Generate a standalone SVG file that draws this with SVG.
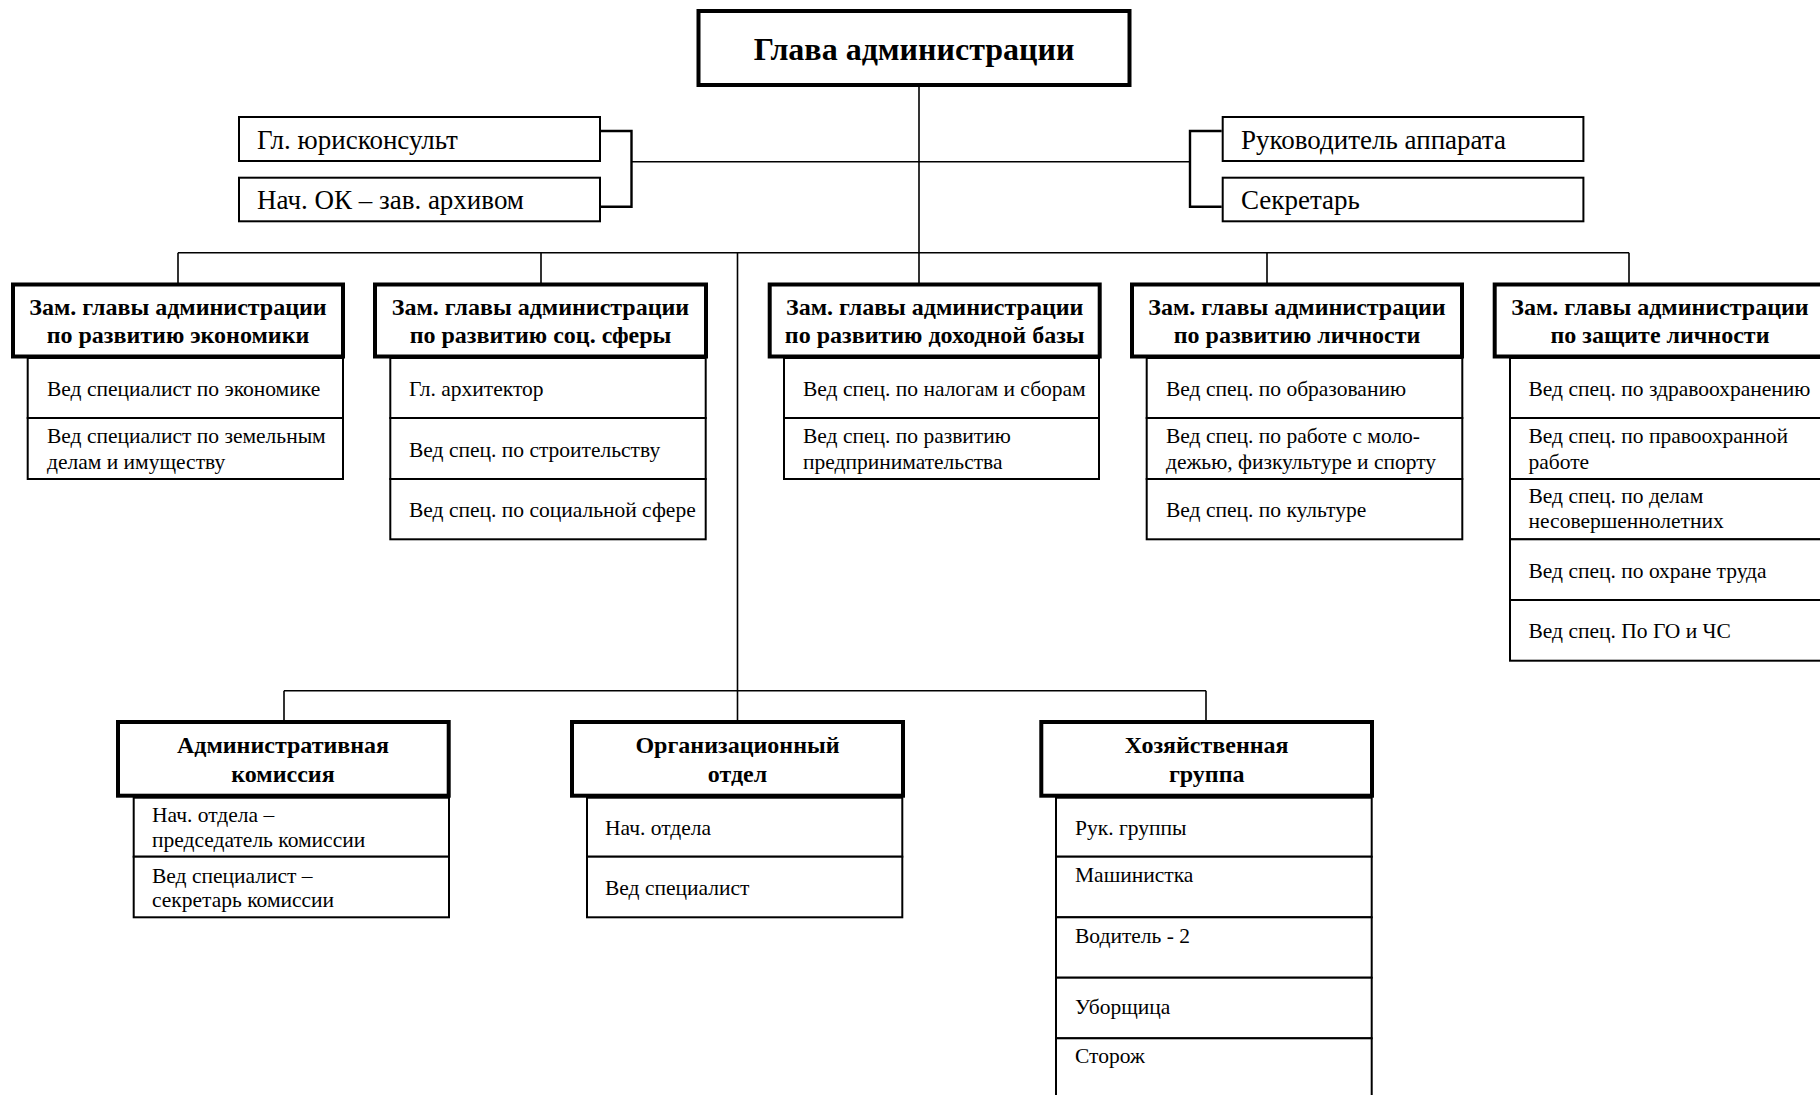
<svg xmlns="http://www.w3.org/2000/svg" width="1820" height="1095" viewBox="0 0 1820 1095">
<style>
.t{fill:#fff;stroke:#000;stroke-width:4}
.s{fill:#fff;stroke:#000;stroke-width:2}
.c{fill:none;stroke:#000;stroke-width:1.6}
.b{fill:none;stroke:#000;stroke-width:2.4}
text{font-family:"Liberation Serif","Times New Roman",serif;fill:#000}
.h{font-size:24px;font-weight:bold;text-anchor:middle}
.n{font-size:21.5px}
.m{font-size:27px}
.g{font-size:32px;font-weight:bold;text-anchor:middle}
</style>
<rect width="1820" height="1095" fill="#fff"/>
<g id="connectors">
<path class="c" d="M919,87 V252.7"/>
<path class="c" d="M631.5,161.7 H1190"/>
<path class="b" d="M601,131 H631.5 V206.7 H601"/>
<path class="b" d="M1221.7,131 H1190 V206.7 H1221.7"/>
<path class="c" d="M178,252.7 H1629"/>
<path class="c" d="M178,252.7 V283 M541,252.7 V283 M919,252.7 V283 M1267,252.7 V283 M1629,252.7 V283"/>
<path class="c" d="M737.5,252.7 V690.7"/>
<path class="c" d="M284,690.7 H1206"/>
<path class="c" d="M284,690.7 V720 M737.5,690.7 V720 M1206,690.7 V720"/>
</g>
<g id="head">
<rect class="t" x="698.5" y="11" width="431" height="74"/>
<text class="g" x="914" y="60">Глава администрации</text>
</g>
<g id="jur">
<rect class="s" x="239" y="117" width="361" height="44"/>
<text class="m" x="257" y="149">Гл. юрисконсульт</text>
</g>
<g id="ok">
<rect class="s" x="239" y="177.7" width="361" height="43.6"/>
<text class="m" x="257" y="209">Нач. ОК – зав. архивом</text>
</g>
<g id="apparat">
<rect class="s" x="1222.7" y="117" width="360.7" height="44"/>
<text class="m" x="1241" y="149">Руководитель аппарата</text>
</g>
<g id="secr">
<rect class="s" x="1222.7" y="177.7" width="360.7" height="43.6"/>
<text class="m" x="1241" y="209">Секретарь</text>
</g>
<g id="dep1">
<rect class="s" x="27.7" y="358" width="315.3" height="60"/>
<rect class="s" x="27.7" y="418" width="315.3" height="61"/>
<rect class="t" x="13" y="284.5" width="330" height="72"/>
<text class="h" x="178" y="315">Зам. главы администрации</text>
<text class="h" x="178" y="343.3">по развитию экономики</text>
<text class="n" x="47" y="396">Вед специалист по экономике</text>
<text class="n" x="47" y="443">Вед специалист по земельным</text>
<text class="n" x="47" y="469">делам и имуществу</text>
</g>
<g id="dep2">
<rect class="s" x="390.3" y="358" width="315.4" height="60"/>
<rect class="s" x="390.3" y="418" width="315.4" height="61"/>
<rect class="s" x="390.3" y="479" width="315.4" height="60.3"/>
<rect class="t" x="375" y="284.5" width="331" height="72"/>
<text class="h" x="540.5" y="315">Зам. главы администрации</text>
<text class="h" x="540.5" y="343.3">по развитию соц. сферы</text>
<text class="n" x="409" y="396">Гл. архитектор</text>
<text class="n" x="409" y="456.7">Вед спец. по строительству</text>
<text class="n" x="409" y="516.7">Вед спец. по социальной сфере</text>
</g>
<g id="dep3">
<rect class="s" x="784" y="358" width="315" height="60"/>
<rect class="s" x="784" y="418" width="315" height="61"/>
<rect class="t" x="769.7" y="284.5" width="330" height="72"/>
<text class="h" x="934.7" y="315">Зам. главы администрации</text>
<text class="h" x="934.7" y="343.3">по развитию доходной базы</text>
<text class="n" x="803" y="396">Вед спец. по налогам и сборам</text>
<text class="n" x="803" y="443">Вед спец. по развитию</text>
<text class="n" x="803" y="469">предпринимательства</text>
</g>
<g id="dep4">
<rect class="s" x="1146.7" y="358" width="315.6" height="60"/>
<rect class="s" x="1146.7" y="418" width="315.6" height="61"/>
<rect class="s" x="1146.7" y="479" width="315.6" height="60.3"/>
<rect class="t" x="1132" y="284.5" width="330" height="72"/>
<text class="h" x="1297" y="315">Зам. главы администрации</text>
<text class="h" x="1297" y="343.3">по развитию личности</text>
<text class="n" x="1166" y="396">Вед спец. по образованию</text>
<text class="n" x="1166" y="443">Вед спец. по работе с моло-</text>
<text class="n" x="1166" y="469">дежью, физкультуре и спорту</text>
<text class="n" x="1166" y="516.7">Вед спец. по культуре</text>
</g>
<g id="dep5">
<rect class="s" x="1510" y="358" width="316" height="60"/>
<rect class="s" x="1510" y="418" width="316" height="61"/>
<rect class="s" x="1510" y="479" width="316" height="60.3"/>
<rect class="s" x="1510" y="539.3" width="316" height="60.7"/>
<rect class="s" x="1510" y="600" width="316" height="60.7"/>
<rect class="t" x="1494.7" y="284.5" width="330" height="72"/>
<text class="h" x="1660" y="315">Зам. главы администрации</text>
<text class="h" x="1660" y="343.3">по защите личности</text>
<text class="n" x="1528.5" y="396">Вед спец. по здравоохранению</text>
<text class="n" x="1528.5" y="443">Вед спец. по правоохранной</text>
<text class="n" x="1528.5" y="469">работе</text>
<text class="n" x="1528.5" y="503.3">Вед спец. по делам</text>
<text class="n" x="1528.5" y="528.3">несовершеннолетних</text>
<text class="n" x="1528.5" y="578.3">Вед спец. по охране труда</text>
<text class="n" x="1528.5" y="638.3">Вед спец. По ГО и ЧС</text>
</g>
<g id="admcom">
<rect class="s" x="133.7" y="797.7" width="315.3" height="59"/>
<rect class="s" x="133.7" y="856.7" width="315.3" height="60.6"/>
<rect class="t" x="118" y="722" width="330.7" height="73.7"/>
<text class="h" x="283" y="753.3">Административная</text>
<text class="h" x="283" y="781.7">комиссия</text>
<text class="n" x="152" y="821.7">Нач. отдела –</text>
<text class="n" x="152" y="846.7">председатель комиссии</text>
<text class="n" x="152" y="882.7">Вед специалист –</text>
<text class="n" x="152" y="907.3">секретарь комиссии</text>
</g>
<g id="orgotd">
<rect class="s" x="587" y="797.7" width="315.3" height="59"/>
<rect class="s" x="587" y="856.7" width="315.3" height="60.6"/>
<rect class="t" x="572" y="722" width="331" height="73.7"/>
<text class="h" x="737.5" y="753.3">Организационный</text>
<text class="h" x="737.5" y="781.7">отдел</text>
<text class="n" x="605" y="835">Нач. отдела</text>
<text class="n" x="605" y="895">Вед специалист</text>
</g>
<g id="hozgr">
<rect class="s" x="1056" y="797.7" width="315.7" height="59"/>
<rect class="s" x="1056" y="856.7" width="315.7" height="60.6"/>
<rect class="s" x="1056" y="917.3" width="315.7" height="60.4"/>
<rect class="s" x="1056" y="977.7" width="315.7" height="60.6"/>
<rect class="s" x="1056" y="1038.3" width="315.7" height="60.7"/>
<rect class="t" x="1041.3" y="722" width="330.7" height="73.7"/>
<text class="h" x="1206.7" y="753.3">Хозяйственная</text>
<text class="h" x="1206.7" y="781.7">группа</text>
<text class="n" x="1075" y="835">Рук. группы</text>
<text class="n" x="1075" y="881.7">Машинистка</text>
<text class="n" x="1075" y="942.7">Водитель - 2</text>
<text class="n" x="1075" y="1014">Уборщица</text>
<text class="n" x="1075" y="1063.3">Сторож</text>
</g>
</svg>
